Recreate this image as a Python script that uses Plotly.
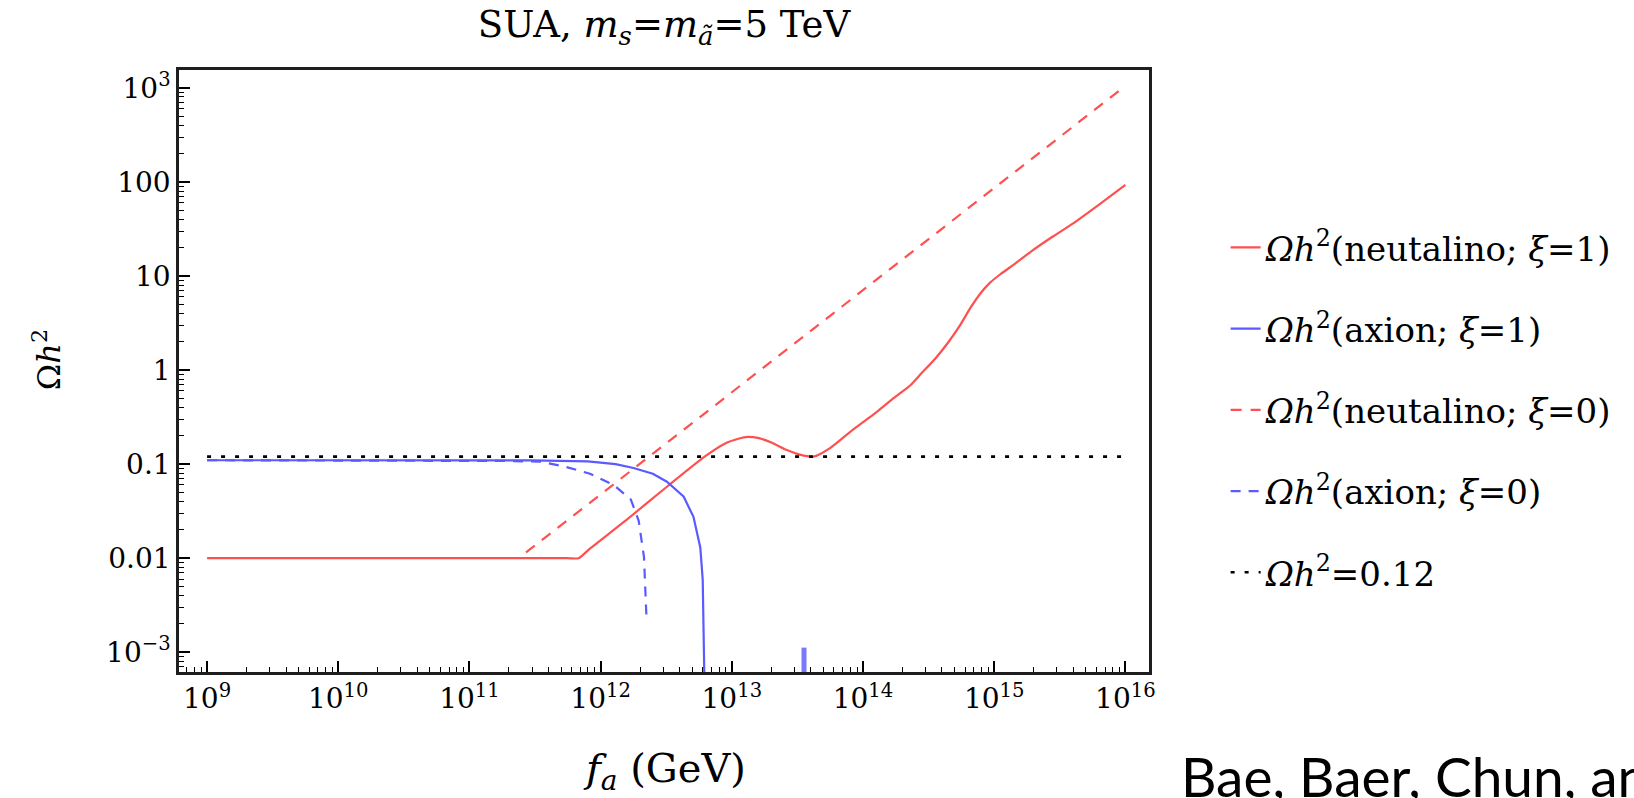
import plotly.graph_objects as go

# ---------------- data ----------------
# Omega h^2 (neutalino; xi=1)
fa_neut1 = [1e9, 5.5e11, 6.8e11, 8.2e11, 1.6e12, 3.2e12, 6.2e12, 8.9e12, 1.12e13, 1.32e13,
            1.58e13, 2.0e13, 2.63e13, 3.3e13, 4.2e13, 5.6e13, 8.3e13, 1.26e14, 1.78e14, 2.3e14,
            2.8e14, 3.55e14, 4.5e14, 5.5e14, 6.6e14, 7.9e14, 9.3e14, 1.12e15, 1.41e15, 1.95e15,
            2.8e15, 4.0e15, 6.3e15, 1.0e16]
om_neut1 = [0.01, 0.01, 0.01, 0.0125, 0.026, 0.0575, 0.12, 0.166, 0.186, 0.195,
            0.19, 0.17, 0.141, 0.126, 0.12, 0.148, 0.23, 0.355, 0.525, 0.69,
            0.93, 1.32, 2.0, 3.0, 4.6, 6.6, 8.5, 10.5, 13.2, 18.6,
            26.3, 36.3, 57.5, 93]

# Omega h^2 (axion; xi=1)
fa_axion1 = [1e9, 1e11, 3e11, 8e11, 1.3e12, 1.78e12, 2.5e12, 3.2e12, 4.3e12, 5.1e12,
             5.75e12, 6.0e12, 6.3e12]
om_axion1 = [0.11, 0.11, 0.1095, 0.107, 0.1, 0.091, 0.079, 0.065, 0.045, 0.0275,
             0.013, 0.0059, 1e-4]
fa_axion1_blip = [3.55e13, 3.55e13]
om_axion1_blip = [1e-4, 1.12e-3]

# Omega h^2 (neutalino; xi=0)
fa_neut0 = [2.7e11, 1.0e16]
om_neut0 = [0.0115, 1050]

# Omega h^2 (axion; xi=0)
fa_axion0 = [1e9, 1e11, 2e11, 3.5e11, 5.5e11, 8.3e11, 1.26e12, 1.7e12, 1.95e12, 2.14e12, 2.24e12]
om_axion0 = [0.11, 0.11, 0.108, 0.106, 0.093, 0.079, 0.060, 0.042, 0.025, 0.0103, 0.0022]

# Omega h^2 = 0.12
fa_ref = [1e9, 1e16]
om_ref = [0.12, 0.12]

x_tickvals = [1e9, 1e10, 1e11, 1e12, 1e13, 1e14, 1e15, 1e16]
x_ticktext = ["10<sup>9</sup>", "10<sup>10</sup>", "10<sup>11</sup>", "10<sup>12</sup>",
              "10<sup>13</sup>", "10<sup>14</sup>", "10<sup>15</sup>", "10<sup>16</sup>"]
y_tickvals = [1e-3, 1e-2, 1e-1, 1, 10, 100, 1e3]
y_ticktext = ["10<sup>\u22123</sup>", "0.01", "0.1", "1", "10", "100", "10<sup>3</sup>"]

x_minor = [m * 10.0 ** e for e in range(8, 17) for m in range(2, 10)]
y_minor = [m * 10.0 ** e for e in range(-4, 4) for m in range(2, 10)]

# ---------------- styling ----------------
RED = "rgb(255,80,80)"
BLUE = "rgb(90,90,255)"
SERIF = "DejaVu Serif"

fig = go.Figure()
fig.add_trace(go.Scatter(x=fa_neut1, y=om_neut1, mode="lines", legendgroup="g1",
                         name="<i>\u03a9h</i><sup>2</sup>(neutalino; <i>\u03be</i>=1)",
                         line=dict(color=RED, width=2.2, shape="spline", smoothing=0.6)))
fig.add_trace(go.Scatter(x=fa_axion1, y=om_axion1, mode="lines", legendgroup="g2",
                         name="<i>\u03a9h</i><sup>2</sup>(axion; <i>\u03be</i>=1)",
                         line=dict(color=BLUE, width=2.2)))
fig.add_trace(go.Scatter(x=fa_axion1_blip, y=om_axion1_blip, mode="lines", legendgroup="g2",
                         showlegend=False, line=dict(color="rgb(120,120,255)", width=5)))
fig.add_trace(go.Scatter(x=fa_neut0, y=om_neut0, mode="lines", legendgroup="g3",
                         name="<i>\u03a9h</i><sup>2</sup>(neutalino; <i>\u03be</i>=0)",
                         line=dict(color=RED, width=2.2, dash="11px,9px")))
fig.add_trace(go.Scatter(x=fa_axion0, y=om_axion0, mode="lines", legendgroup="g4",
                         name="<i>\u03a9h</i><sup>2</sup>(axion; <i>\u03be</i>=0)",
                         line=dict(color=BLUE, width=2.2, dash="10px,8px")))
fig.add_trace(go.Scatter(x=fa_ref, y=om_ref, mode="lines", legendgroup="g5",
                         name="<i>\u03a9h</i><sup>2</sup>=0.12",
                         line=dict(color="black", width=2.6, dash="4px,10px")))

axis_common = dict(
    type="log", showgrid=False, zeroline=False,
    showline=True, linecolor="rgb(30,30,30)", linewidth=2.5, mirror=True,
    ticks="inside", ticklen=11, tickwidth=1.6, tickcolor="black",
    tickfont=dict(family=SERIF, size=28, color="black"),
    tickmode="array",
)

fig.update_xaxes(**axis_common, range=[8.786, 16.18],
                 tickvals=x_tickvals, ticktext=x_ticktext,
                 minor=dict(tickmode="array", tickvals=x_minor, ticks="inside",
                            ticklen=5, tickwidth=1.3, tickcolor="black"))
fig.update_yaxes(**axis_common, range=[-3.21, 3.19],
                 tickvals=y_tickvals, ticktext=y_ticktext,
                 minor=dict(tickmode="array", tickvals=y_minor, ticks="inside",
                            ticklen=5, tickwidth=1.3, tickcolor="black"))

fig.update_layout(
    width=1634, height=798, autosize=False,
    margin=dict(l=179, r=485, t=70, b=126),
    paper_bgcolor="white", plot_bgcolor="white",
    title=dict(text="SUA, <i>m<sub>s</sub></i>=<i>m<sub>\u00e3</sub></i>=5 TeV",
               x=0.5, xref="paper", xanchor="center",
               y=1 - 24 / 798, yref="container", yanchor="middle",
               font=dict(family=SERIF, size=37, color="black")),
    legend=dict(x=1.079, xanchor="left", y=0.7527, yanchor="top",
                font=dict(family=SERIF, size=34, color="black"),
                tracegroupgap=34, itemwidth=30, bgcolor="rgba(0,0,0,0)"),
    annotations=[
        dict(text="<i>f<sub>a</sub></i> (GeV)", xref="paper", yref="paper",
             x=0.5, y=-0.165, xanchor="center", yanchor="middle", showarrow=False,
             font=dict(family=SERIF, size=40, color="black")),
        dict(text="\u03a9<i>h</i><sup>2</sup>", xref="paper", yref="paper",
             x=-0.136, y=0.518, xanchor="center", yanchor="middle", showarrow=False,
             textangle=-90, font=dict(family=SERIF, size=32, color="black")),
        dict(text="Bae, Baer, Chun, and", xref="paper", yref="paper",
             x=1.031, y=-0.173, xanchor="left", yanchor="middle", showarrow=False,
             font=dict(family="Lato", size=55, color="black")),
    ],
)

fig.write_html("out.html")
